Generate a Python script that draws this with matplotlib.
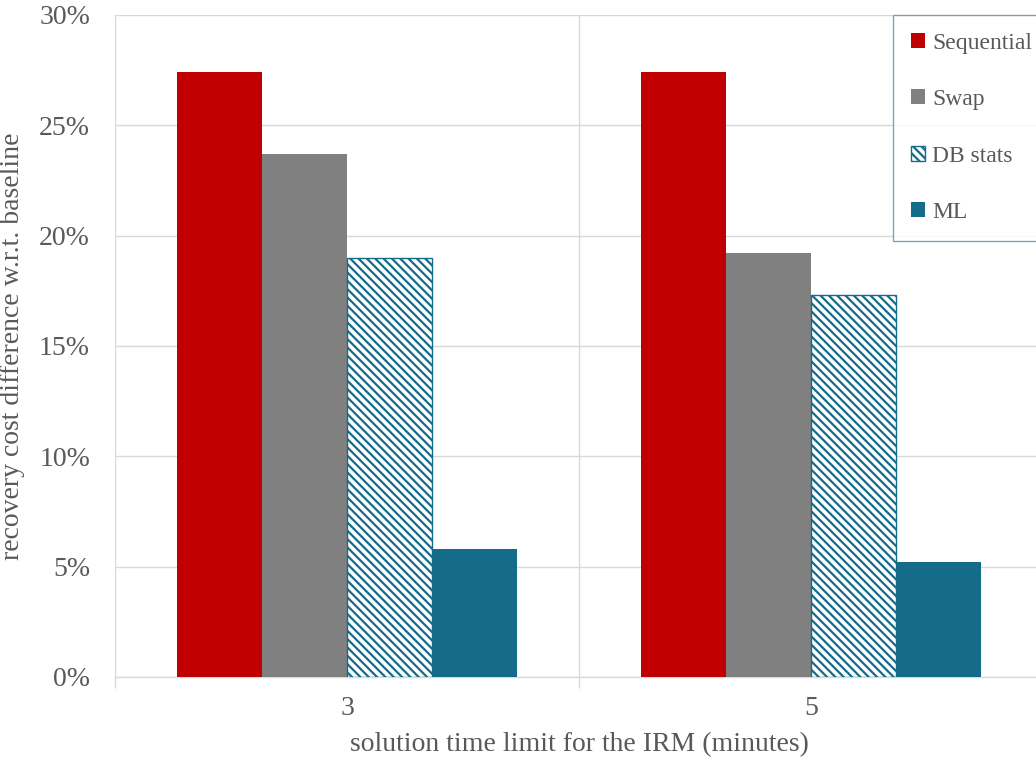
import matplotlib
matplotlib.use("Agg")
import matplotlib.pyplot as plt
from matplotlib.ticker import FuncFormatter, FixedLocator
import numpy as np

plt.rcParams['font.family'] = ['Liberation Serif', 'DejaVu Serif']
plt.rcParams['hatch.linewidth'] = 1.6

categories = ["3", "5"]
series_names = ["Sequential", "Swap", "DB stats", "ML"]
sequential = [27.4, 27.4]
swap = [23.7, 19.2]
db_stats = [19.0, 17.3]
ml = [5.8, 5.2]
y_ticks = [0, 5, 10, 15, 20, 25, 30]

red = "#C00000"
gray = "#808080"
teal = "#156B8A"
grid_c = "#D9D9D9"
text_c = "#595959"

W, H = 1036, 763
fig = plt.figure(figsize=(W / 100, H / 100), dpi=100)
ax = fig.add_axes([115 / W, 1 - 677 / H, (1043 - 115) / W, (677 - 15) / H])

x = np.arange(len(categories)) + 0.5
bw = 0.1828
offsets = np.array([-1.5, -0.5, 0.5, 1.5]) * bw

ax.bar(x + offsets[0], sequential, bw, color=red, label=series_names[0], zorder=3)
ax.bar(x + offsets[1], swap, bw, color=gray, label=series_names[1], zorder=3)
ax.bar(x + offsets[2], db_stats, bw, facecolor="white", edgecolor=teal,
       hatch="\\\\\\\\", linewidth=1.0, label=series_names[2], zorder=3)
ax.bar(x + offsets[3], ml, bw, color=teal, label=series_names[3], zorder=3)

ax.set_xlim(0, len(categories))
ax.set_ylim(0, 30)
ax.set_yticks(y_ticks)
ax.yaxis.set_major_formatter(FuncFormatter(lambda v, p: f"{int(v)}%"))
ax.set_xticks(x)
ax.set_xticklabels(categories)
ax.xaxis.set_minor_locator(FixedLocator(np.arange(len(categories) + 1)))

ax.grid(axis="y", which="major", color=grid_c, linewidth=1.0, zorder=0)
ax.grid(axis="x", which="minor", color=grid_c, linewidth=1.0, zorder=0)
ax.tick_params(axis="y", length=0, labelsize=20, labelcolor=text_c, pad=18)
ax.tick_params(axis="x", which="major", length=0, labelsize=20, labelcolor=text_c, pad=14)
ax.tick_params(axis="x", which="minor", length=8, color=grid_c, width=1.0)

for s in ["top", "right", "left"]:
    ax.spines[s].set_visible(False)
ax.spines["bottom"].set_color(grid_c)
ax.spines["bottom"].set_linewidth(1.0)

ax.set_ylabel("recovery cost difference w.r.t. baseline", fontsize=20, color=text_c, labelpad=10)
ax.set_xlabel("solution time limit for the IRM (minutes)", fontsize=20, color=text_c, labelpad=8)

leg = fig.legend(loc="upper left", bbox_to_anchor=(893 / W, 1 - 15 / H),
                 fontsize=17, frameon=True, fancybox=False, edgecolor="#5B8FA0",
                 handlelength=0.6, handleheight=0.6, handletextpad=0.3,
                 labelspacing=1.5, borderpad=0.75, borderaxespad=0)
leg.get_frame().set_linewidth(1.0)
for t in leg.get_texts():
    t.set_color(text_c)

fig.savefig("out.png", dpi=100)
